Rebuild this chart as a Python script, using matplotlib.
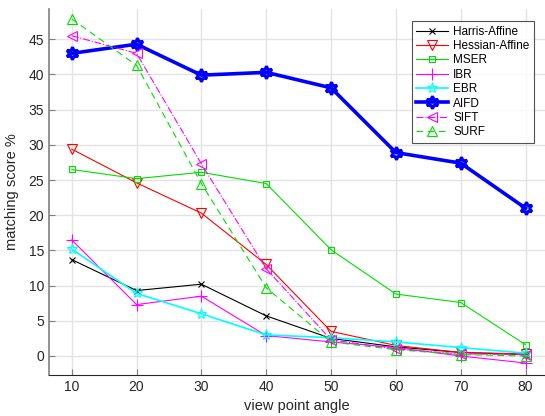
import matplotlib
matplotlib.use("Agg")
import matplotlib.pyplot as plt

plt.rcParams['font.family'] = ['Liberation Sans', 'DejaVu Sans']

angles = [10, 20, 30, 40, 50, 60, 70, 80]
harris = [13.7, 9.3, 10.2, 5.7, 2.5, 1.3, 0.5, 0.2]
hessian = [29.4, 24.6, 20.3, 13.0, 3.5, 1.5, 0.5, 0.3]
mser = [26.5, 25.2, 26.1, 24.5, 15.1, 8.8, 7.6, 1.6]
ibr = [16.5, 7.3, 8.5, 2.9, 2.0, 1.2, 0.0, -1.0]
ebr = [15.2, 8.9, 6.0, 3.0, 2.6, 2.0, 1.2, 0.4]
aifd = [43.0, 44.3, 39.9, 40.3, 38.1, 28.9, 27.4, 21.0]
sift = [45.5, 43.0, 27.3, 12.4, 2.3, 1.0, 0.3, 0.2]
surf = [47.9, 41.3, 24.5, 9.7, 2.0, 0.9, 0.2, 0.0]
yticks = [0, 5, 10, 15, 20, 25, 30, 35, 40, 45]

fig = plt.figure(figsize=(5.45, 4.16), dpi=100)
ax = fig.add_axes([49/545, 1-375/416, 1-49/545, (375-9)/416])

lw = 0.8
ax.plot(angles, harris, color='black', marker='x', ms=5, lw=lw, mew=0.8, label='Harris-Affine')
ax.plot(angles, hessian, color='red', marker='v', ms=7, lw=lw, mfc='none', mew=0.8, label='Hessian-Affine')
ax.plot(angles, mser, color='#00e000', marker='s', ms=5, lw=lw, mfc='none', mew=0.8, label='MSER')
ax.plot(angles, ibr, color='magenta', marker='+', ms=8, lw=lw, mew=0.8, label='IBR')
ax.plot(angles, ebr, color='cyan', marker='*', ms=8, lw=lw+0.4, mfc='none', mew=0.8, label='EBR')
ax.plot(angles, aifd, color='blue', marker=(6, 1, 0), ms=9, lw=2.6, mfc='none', mew=2.2, label='AIFD')
ax.plot(angles, sift, color='magenta', marker='<', ms=7, lw=lw, ls='-.', mfc='none', mew=0.8, label='SIFT')
ax.plot(angles, surf, color='#00e000', marker='^', ms=7, lw=lw, ls=(0, (6, 4)), mfc='none', mew=0.8, label='SURF')

ax.set_xlim(6.5, 83)
ax.set_ylim(-2.7, 49.3)
ax.set_xticks(angles)
ax.set_yticks(yticks)
ax.grid(True, color='#e3e3e3', lw=1)
ax.set_axisbelow(True)
for s in ['top', 'right']:
    ax.spines[s].set_visible(False)
ax.spines['bottom'].set_color('#262626')
ax.spines['left'].set_color('#7f7f7f')
ax.spines['left'].set_linewidth(1.2)
ax.tick_params(direction='in', length=4, colors='#7f7f7f', labelcolor='#262626', labelsize=10)
ax.set_xlabel('view point angle', fontsize=10.5, color='#262626')
ax.set_ylabel('matching score %', fontsize=10.5, color='#262626', labelpad=7)

leg = ax.legend(loc='upper right', fontsize=8.5, frameon=True, fancybox=False, edgecolor='#262626',
                handlelength=2.7, borderpad=0.4, labelspacing=0.2, handletextpad=0.4,
                borderaxespad=0)
leg.set_bbox_to_anchor((534/545, 1-21/416), transform=fig.transFigure)
leg.get_frame().set_linewidth(0.8)

fig.savefig('out.png', dpi=100)
